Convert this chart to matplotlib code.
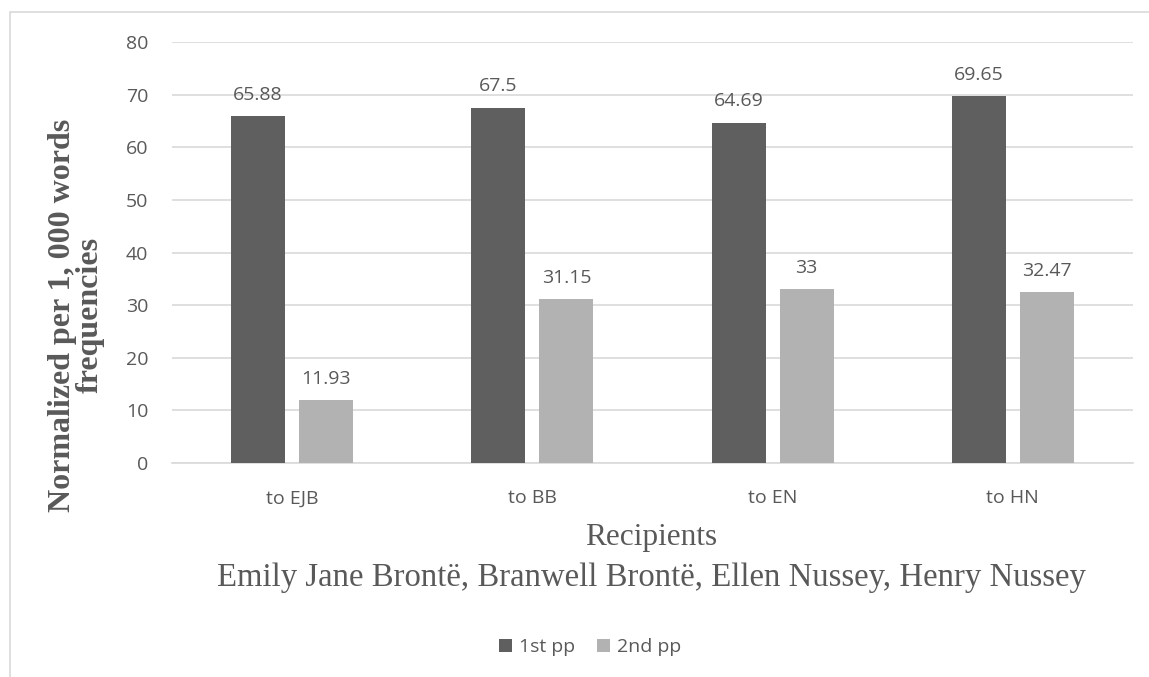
import numpy as np
import matplotlib.pyplot as plt
from matplotlib.patches import Rectangle

categories = ['to EJB', 'to BB', 'to EN', 'to HN']
first_pp = [65.88, 67.5, 64.69, 69.65]
second_pp = [11.93, 31.15, 33, 32.47]
first_labels = ['65.88', '67.5', '64.69', '69.65']
second_labels = ['11.93', '31.15', '33', '32.47']

dark = '#5f5f5f'
light = '#b2b2b2'
text_col = '#595959'
grid_col = '#d9d9d9'

W, H = 1149, 677
fig = plt.figure(figsize=(W / 100, H / 100), dpi=100)

# chart frame
fig.patches.append(Rectangle((10 / W, -0.1), 1.2, 1 - 12 / H + 0.1,
                             transform=fig.transFigure, fill=False,
                             edgecolor=grid_col, linewidth=1.2))

ax = fig.add_axes([172 / W, 1 - 463 / H, (1133 - 172) / W, (463 - 42) / H])
x = np.arange(len(categories))
bw = 0.225
gap = 0.058
b1 = ax.bar(x - (bw + gap) / 2, first_pp, bw, color=dark, label='1st pp', zorder=3)
b2 = ax.bar(x + (bw + gap) / 2, second_pp, bw, color=light, label='2nd pp', zorder=3)

for bars, labels in ((b1, first_labels), (b2, second_labels)):
    for rect, lab in zip(bars, labels):
        ax.annotate(lab, (rect.get_x() + rect.get_width() / 2, rect.get_height()),
                    xytext=(0, 9), textcoords='offset points', ha='center', va='bottom',
                    fontsize=14, color=text_col, family='Open Sans')

ax.set_xlim(-0.5, len(categories) - 0.5)
ax.set_ylim(0, 80)
ax.set_yticks(range(0, 81, 10))
ax.set_xticks(x)
ax.set_xticklabels(categories)
ax.yaxis.grid(True, color=grid_col, linewidth=1.2, zorder=0)
for s in ['top', 'right', 'left']:
    ax.spines[s].set_visible(False)
ax.spines['bottom'].set_color(grid_col)
ax.spines['bottom'].set_linewidth(1.2)
ax.tick_params(length=0, labelsize=14, labelcolor=text_col)
ax.tick_params(axis='x', pad=19)
ax.tick_params(axis='y', pad=17)
for t in ax.get_xticklabels() + ax.get_yticklabels():
    t.set_family('Open Sans')

fig.text(76 / W, 1 - 315 / H, 'Normalized per 1, 000 words\nfrequencies',
         rotation=90, ha='center', va='center', multialignment='center',
         family='Liberation Serif', fontweight='bold', fontsize=23,
         color=text_col, linespacing=0.95)
fig.text(651 / W, 1 - 537 / H, 'Recipients', ha='center', va='center',
         family='Liberation Serif', fontsize=22.5, color=text_col)
fig.text(651 / W, 1 - 578 / H, 'Emily Jane Brontë, Branwell Brontë, Ellen Nussey, Henry Nussey',
         ha='center', va='center', family='Liberation Serif', fontsize=23.6, color=text_col)

fig.legend(handles=[b1, b2], loc='center', bbox_to_anchor=(590 / W, 1 - 647 / H),
           ncol=2, frameon=False, handlelength=0.67, handleheight=0.67,
           handletextpad=0.36, columnspacing=1.1, borderpad=0,
           prop={'family': 'Open Sans', 'size': 14}, labelcolor=text_col)

fig.savefig('out.png', dpi=100)
